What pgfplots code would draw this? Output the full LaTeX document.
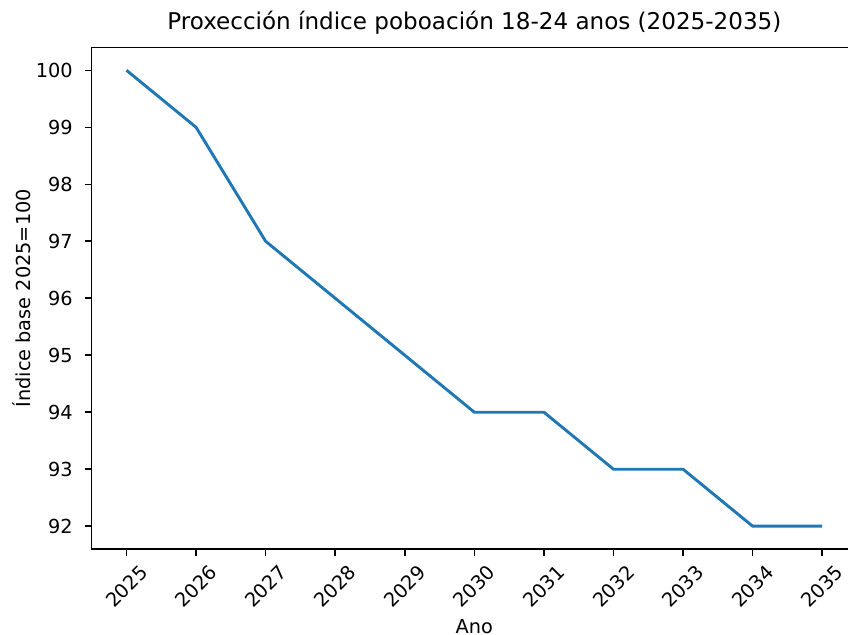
\documentclass[border=0pt]{standalone}
\usepackage{fontspec}
\setmainfont{DejaVu Sans}
\usepackage{pgfplots}
\pgfplotsset{compat=1.18}
\definecolor{mplblue}{HTML}{1F77B4}
\begin{document}
\fontsize{13.9}{16}\selectfont
\begin{tikzpicture}[x=0.72pt,y=0.72pt]
\useasboundingbox (0,0) rectangle (848,635);
\begin{axis}[
  at={(91.7*0.72pt,86*0.72pt)}, anchor=south west,
  scale only axis,
  width=765.3*0.72pt, height=501.5*0.72pt,
  xmin=2024.5, xmax=2035.5,
  ymin=91.6, ymax=100.4,
  xtick={2025,...,2035},
  ytick={92,...,100},
  xtick pos=bottom, ytick pos=left,
  tick align=outside,
  major tick length=4.9pt,
  /pgf/number format/assume math mode=true,
  /pgf/number format/1000 sep={},
  xticklabel style={rotate=45, anchor=center, font=\fontsize{13.9}{16}\selectfont},
  xticklabel shift=22pt,
  yticklabel style={font=\fontsize{13.9}{16}\selectfont, xshift=-4pt},
  xlabel={Ano},
  ylabel={Índice base 2025=100},
  xlabel style={font=\fontsize{13.9}{16}\selectfont, yshift=4pt},
  ylabel style={font=\fontsize{13.9}{16}\selectfont, yshift=-6pt},
  title={Proxección índice poboación 18-24 anos (2025-2035)},
  title style={font=\fontsize{16.6}{19}\selectfont, yshift=-1pt},
  axis line style={line width=1.1pt},
  tick style={line width=1.1pt, black},
]
\addplot[mplblue, line width=2.1pt, mark=none] coordinates {
(2025,100) (2026,99) (2027,97) (2028,96) (2029,95) (2030,94)
(2031,94) (2032,93) (2033,93) (2034,92) (2035,92)
};
\end{axis}
\end{tikzpicture}
\end{document}
